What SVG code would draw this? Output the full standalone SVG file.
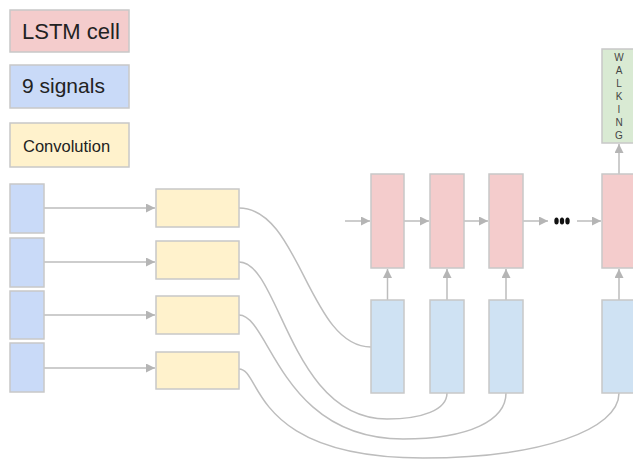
<svg xmlns="http://www.w3.org/2000/svg" width="633" height="459" viewBox="0 0 633 459">
  <defs>
    <style>
      .box { stroke: #c8c8c8; stroke-width: 1.5; }
      .lstm { fill: #f4cccc; }
      .sig { fill: #c9daf8; }
      .inp { fill: #cfe2f3; }
      .conv { fill: #fff2cc; }
      .out { fill: #d9ead3; }
      .link { fill: none; stroke: #bdbdbd; stroke-width: 1.5; }
      .lbl { font-family: "Liberation Sans", Arial, sans-serif; fill: #222; }
      .vl { font-family: "Liberation Sans", Arial, sans-serif; fill: #444; font-size: 10px; text-anchor: middle; }
    </style>
    <marker id="arr" viewBox="0 0 10 10" refX="10" refY="5" markerWidth="6" markerHeight="6" orient="auto" markerUnits="strokeWidth">
      <path d="M0,0 L10,5 L0,10 z" fill="#b5b5b5"/>
    </marker>
  </defs>
  <rect width="633" height="459" fill="#ffffff"/>

  <!-- legend -->
  <g id="legend-lstm">
    <rect class="box lstm" x="10" y="10" width="119" height="42"/>
    <text class="lbl" x="22" y="39" font-size="22">LSTM cell</text>
  </g>
  <g id="legend-signals">
    <rect class="box sig" x="10" y="65" width="119" height="43"/>
    <text class="lbl" x="22" y="93" font-size="21">9 signals</text>
  </g>
  <g id="legend-conv">
    <rect class="box conv" x="10" y="123" width="119" height="44"/>
    <text class="lbl" x="23" y="152" font-size="16.5">Convolution</text>
  </g>

  <!-- connectors -->
  <g id="connectors">
    <path class="link" d="M44,208 H155" marker-end="url(#arr)"/>
    <path class="link" d="M44,262 H155" marker-end="url(#arr)"/>
    <path class="link" d="M44,315 H155" marker-end="url(#arr)"/>
    <path class="link" d="M44,368 H155" marker-end="url(#arr)"/>

    <path class="link" d="M239,208 C300,208 309,347 371,347"/>
    <path class="link" d="M239,262 C280,262 290,419 387,419 C422,419 447,410 447,393"/>
    <path class="link" d="M239,315 C270,315 280,439 403,439 C470,439 506,420 506,393"/>
    <path class="link" d="M239,369 C262,369 250,458 423,458 C540,458 619,430 619,393"/>

    <path class="link" d="M345,221 H370" marker-end="url(#arr)"/>
    <path class="link" d="M404,221 H429" marker-end="url(#arr)"/>
    <path class="link" d="M464,221 H488" marker-end="url(#arr)"/>
    <path class="link" d="M523,221 H548" marker-end="url(#arr)"/>
    <path class="link" d="M577,221 H601" marker-end="url(#arr)"/>

    <path class="link" d="M387.5,300 V269" marker-end="url(#arr)"/>
    <path class="link" d="M447,300 V269" marker-end="url(#arr)"/>
    <path class="link" d="M506,300 V269" marker-end="url(#arr)"/>
    <path class="link" d="M619,300 V269" marker-end="url(#arr)"/>
    <path class="link" d="M619,174 V144" marker-end="url(#arr)"/>
  </g>

  <!-- signal inputs -->
  <g id="signal-1"><rect class="box sig" x="10" y="184" width="34" height="49"/></g>
  <g id="signal-2"><rect class="box sig" x="10" y="238" width="34" height="49"/></g>
  <g id="signal-3"><rect class="box sig" x="10" y="291" width="34" height="48"/></g>
  <g id="signal-4"><rect class="box sig" x="10" y="343" width="34" height="49"/></g>

  <!-- convolutions -->
  <g id="conv-1"><rect class="box conv" x="156" y="189" width="83" height="38"/></g>
  <g id="conv-2"><rect class="box conv" x="156" y="241" width="83" height="38"/></g>
  <g id="conv-3"><rect class="box conv" x="156" y="296" width="83" height="38"/></g>
  <g id="conv-4"><rect class="box conv" x="156" y="352" width="83" height="37"/></g>

  <!-- LSTM cells -->
  <g id="lstm-1"><rect class="box lstm" x="371" y="174" width="33" height="94"/></g>
  <g id="lstm-2"><rect class="box lstm" x="430" y="174" width="34" height="94"/></g>
  <g id="lstm-3"><rect class="box lstm" x="489" y="174" width="34" height="94"/></g>
  <g id="lstm-n"><rect class="box lstm" x="602" y="174" width="34" height="94"/></g>

  <!-- ellipsis between cells -->
  <g id="ellipsis" fill="#111">
    <ellipse cx="556.5" cy="221" rx="2.2" ry="3.6"/>
    <ellipse cx="562" cy="221" rx="2.2" ry="3.6"/>
    <ellipse cx="567.5" cy="221" rx="2.2" ry="3.6"/>
  </g>

  <!-- sequence inputs -->
  <g id="input-1"><rect class="box inp" x="371" y="300" width="33" height="93"/></g>
  <g id="input-2"><rect class="box inp" x="430" y="300" width="34" height="93"/></g>
  <g id="input-3"><rect class="box inp" x="489" y="300" width="34" height="93"/></g>
  <g id="input-n"><rect class="box inp" x="602" y="300" width="34" height="93"/></g>

  <!-- output -->
  <g id="output">
    <rect class="box out" x="602" y="49" width="34" height="94"/>
    <text class="vl" x="619" y="61">W</text>
    <text class="vl" x="619" y="74">A</text>
    <text class="vl" x="619" y="87">L</text>
    <text class="vl" x="619" y="100">K</text>
    <text class="vl" x="619" y="113">I</text>
    <text class="vl" x="619" y="126">N</text>
    <text class="vl" x="619" y="139">G</text>
  </g>
</svg>
